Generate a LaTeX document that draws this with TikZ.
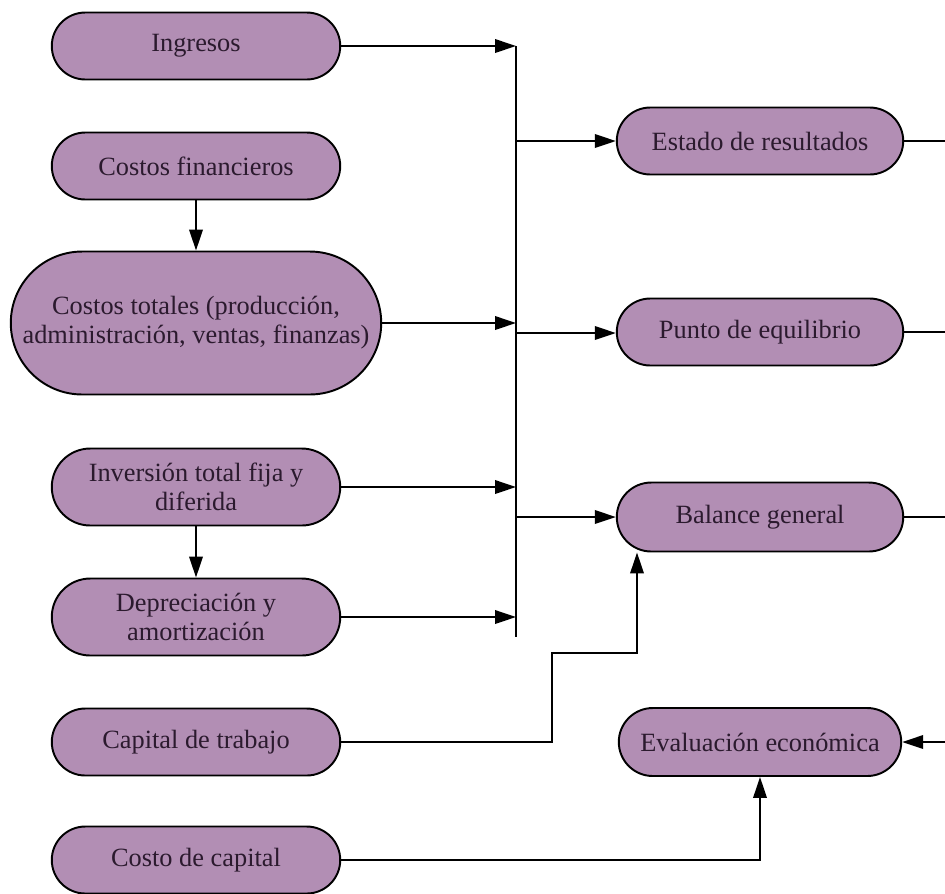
\documentclass[tikz,border=0pt]{standalone}
\usepackage{fontspec}
\setmainfont{Liberation Serif}
\usetikzlibrary{shapes.misc, arrows.meta, calc}
\definecolor{lila}{RGB}{178,142,180}
\definecolor{tinta}{RGB}{43,26,46}
\tikzset{
    caja/.style = {rounded rectangle, draw=black, fill=lila, line width=1.1pt,
        minimum width=5.84cm, minimum height=1.34cm, inner sep=1pt, align=center,
        text=tinta, font=\fontsize{15}{16.5}\selectfont},
    flecha/.style = {line width=1.1pt, -{Triangle[length=0.42cm,width=0.27cm]}},
    linea/.style = {line width=1.1pt},
}
\begin{document}
\begin{tikzpicture}[x=0.02cm,y=-0.02cm]
\useasboundingbox (0,0) rectangle (945,893);

% columna izquierda
\node[caja] (ing) at (196,46) {Ingresos};
\node[caja] (cfin) at (196,166) {Costos financieros};
\node[caja,minimum width=7.48cm,minimum height=2.86cm] (ctot) at (196,323) {Costos totales (producción,\\administración, ventas, finanzas)};
\node[caja,minimum height=1.54cm] (inv) at (196,487) {Inversión total fija y\\diferida};
\node[caja,minimum height=1.54cm] (dep) at (196,617) {Depreciación y\\amortización};
\node[caja] (cap) at (196,742) {Capital de trabajo};
\node[caja] (cca) at (196,860) {Costo de capital};

% columna derecha
\node[caja,minimum width=5.8cm] (est) at (760,141) {Estado de resultados};
\node[caja,minimum width=5.8cm] (pto) at (760,332) {Punto de equilibrio};
\node[caja,minimum width=5.8cm,minimum height=1.38cm] (bal) at (760,517) {Balance general};
\node[caja,minimum width=5.72cm,minimum height=1.36cm] (eva) at (760,742) {Evaluación económica};

% bus
\coordinate (bus1) at (516,46);
\coordinate (bus2) at (516,637);
\draw[linea] (bus1) -- (bus2);

\draw[flecha] (cfin.south) -- (ctot.north);
\draw[flecha] (inv.south) -- (dep.north);

\draw[flecha] (ing.east) -- (ing.east -| bus1);
\draw[flecha] (ctot.east) -- (ctot.east -| bus1);
\draw[flecha] (inv.east) -- (inv.east -| bus1);
\draw[flecha] (dep.east) -- (dep.east -| bus1);

\draw[flecha] (est.west -| bus1) -- (est.west);
\draw[flecha] (516,333) -- (pto.west |- 0,333);
\draw[flecha] (bal.west -| bus1) -- (bal.west);

% salidas a la derecha
\coordinate (der1) at (945,141);
\coordinate (der2) at (945,332);
\coordinate (der3) at (945,517);
\coordinate (der4) at (945,742);
\draw[linea] (est.east) -- (der1);
\draw[linea] (pto.east) -- (der2);
\draw[linea] (bal.east) -- (der3);
\draw[flecha] (der4) -- (eva.east);

\coordinate (codo1) at (552,653);
\coordinate (codo2) at (637,653);
\draw[flecha] (cap.east) -| (codo1) -- (codo2) -- (bal.south -| codo2);
\draw[flecha] (cca.east) -| (eva.south);

\end{tikzpicture}
\end{document}
